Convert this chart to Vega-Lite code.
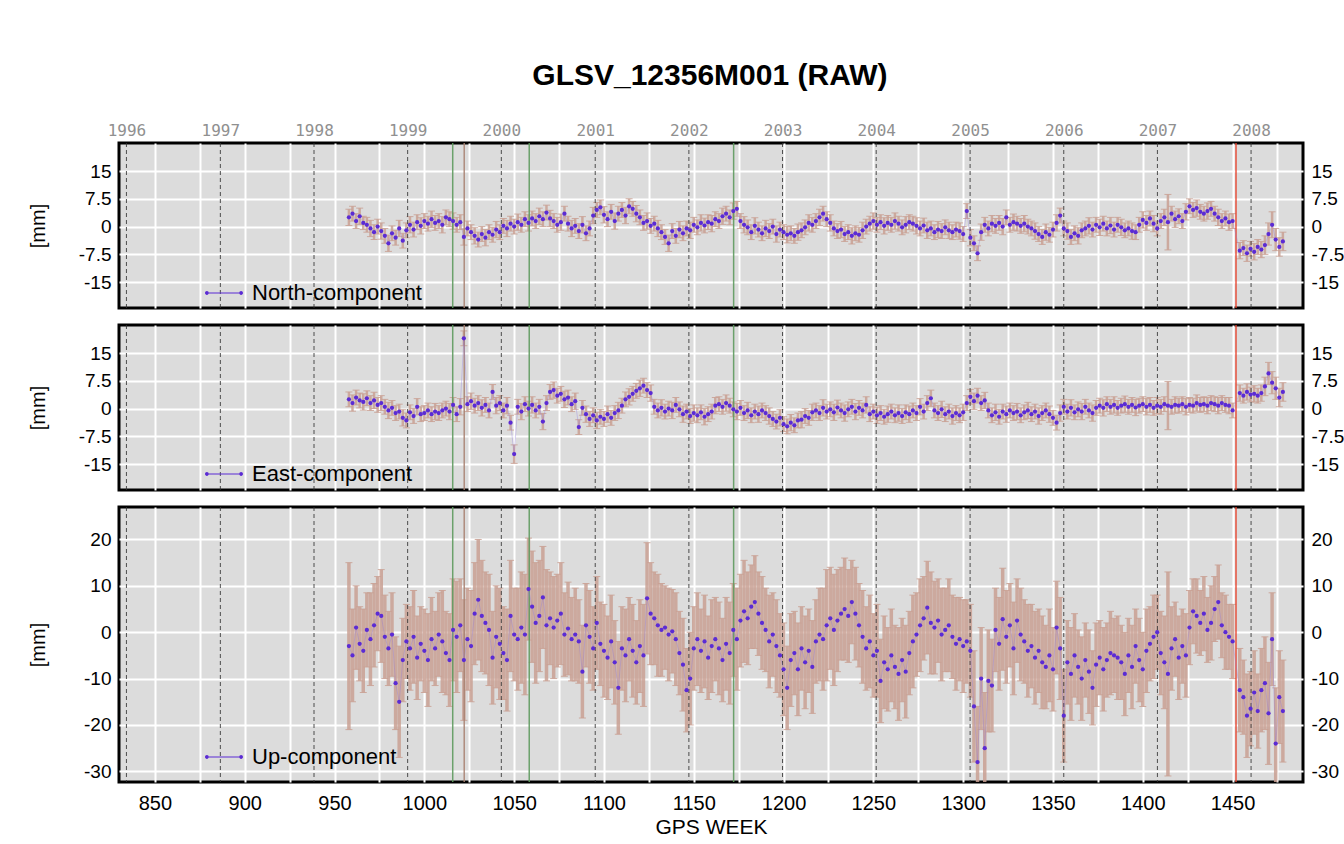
{
"$schema": "https://vega.github.io/schema/vega-lite/v6.json",
"background": "#ffffff",
"padding": {"left": 26, "top": 60, "right": 0, "bottom": 0},
"title": {"text": "GLSV_12356M001 (RAW)", "fontSize": 30, "fontWeight": "bold", "font": "Liberation Sans", "anchor": "middle", "offset": 30, "dx": 24, "color": "#000000"},
"config": {
 "font": "Liberation Sans",
 "view": {"fill": "#dcdcdc", "stroke": "#000000", "strokeWidth": 3},
 "axis": {"labelFont": "Liberation Sans", "titleFont": "Liberation Sans", "labelColor": "#000000", "titleColor": "#000000", "ticks": false, "domain": false, "gridColor": "#ffffff", "gridWidth": 2, "gridOpacity": 1, "labelFlush": false, "labelOverlap": false, "titleFontWeight": "normal"}
},
"datasets": {
 "years": [{"w":834.14,"yr":1996},{"w":886.43,"yr":1997},{"w":938.57,"yr":1998},{"w":990.71,"yr":1999},{"w":1042.86,"yr":2000},{"w":1095.14,"yr":2001},{"w":1147.29,"yr":2002},{"w":1199.43,"yr":2003},{"w":1251.57,"yr":2004},{"w":1303.86,"yr":2005},{"w":1356.0,"yr":2006},{"w":1408.14,"yr":2007},{"w":1460.29,"yr":2008}],
 "events": [{"w":1015.8,"kind":"green"},{"w":1022.2,"kind":"brown"},{"w":1058.4,"kind":"green"},{"w":1172.2,"kind":"green"},{"w":1451.9,"kind":"red"}],
 "gps": [
{"w":958,"n":2.5,"e":2.5,"u":-3,"sn":2.2,"se":2,"su":18},
{"w":960,"n":3.5,"e":1.5,"u":-5,"sn":2,"se":2.2,"su":10},
{"w":962,"n":1.5,"e":3.0,"u":1.0,"sn":2,"se":2,"su":9},
{"w":964,"n":2.8,"e":2.2,"u":-2.5,"sn":2.2,"se":2,"su":8},
{"w":966,"n":1.0,"e":1.8,"u":-4.0,"sn":1.8,"se":2.2,"su":9},
{"w":968,"n":0.5,"e":2.8,"u":0.5,"sn":2,"se":2,"su":8},
{"w":970,"n":-0.5,"e":1.5,"u":-1.5,"sn":2.2,"se":2,"su":10},
{"w":972,"n":-1.5,"e":2.2,"u":1.5,"sn":2,"se":2.2,"su":9},
{"w":974,"n":0.0,"e":1.0,"u":4.0,"sn":2,"se":2,"su":8},
{"w":976,"n":-1.2,"e":1.5,"u":3.5,"sn":2.2,"se":2,"su":10},
{"w":978,"n":-2.5,"e":0.5,"u":-1.0,"sn":2,"se":2,"su":9},
{"w":980,"n":-4.5,"e":-0.5,"u":-3.5,"sn":2.2,"se":2.2,"su":8},
{"w":982,"n":-1.8,"e":0.2,"u":-0.5,"sn":2,"se":2,"su":9},
{"w":984,"n":-3.0,"e":-1.2,"u":-11.0,"sn":2,"se":2,"su":10},
{"w":986,"n":-0.5,"e":-0.8,"u":-15.0,"sn":2.2,"se":2,"su":12},
{"w":988,"n":-3.8,"e":-2.5,"u":-6.0,"sn":2,"se":2.2,"su":9},
{"w":990,"n":-1.0,"e":-3.2,"u":-2.0,"sn":2,"se":2,"su":8},
{"w":992,"n":0.5,"e":-1.0,"u":-3.5,"sn":2.2,"se":2,"su":9},
{"w":994,"n":-0.8,"e":-2.0,"u":-1.0,"sn":2,"se":2,"su":10},
{"w":996,"n":1.2,"e":0.5,"u":-5.5,"sn":2,"se":2.2,"su":9},
{"w":998,"n":0.2,"e":-1.5,"u":-2.5,"sn":2.2,"se":2,"su":8},
{"w":1000,"n":1.5,"e":-1.2,"u":-4.0,"sn":2,"se":2,"su":9},
{"w":1002,"n":0.8,"e":-0.5,"u":-6.0,"sn":2,"se":2,"su":10},
{"w":1004,"n":2.0,"e":-1.5,"u":-1.5,"sn":2.2,"se":2,"su":9},
{"w":1006,"n":1.0,"e":-0.8,"u":-3.5,"sn":2,"se":2.2,"su":8},
{"w":1008,"n":1.5,"e":-1.2,"u":-0.5,"sn":2,"se":2,"su":9},
{"w":1010,"n":0.5,"e":-0.5,"u":-2.0,"sn":2.2,"se":2,"su":11},
{"w":1012,"n":2.5,"e":0.0,"u":-4.5,"sn":2,"se":2,"su":9},
{"w":1014,"n":2.0,"e":-0.8,"u":-6.0,"sn":2,"se":2.2,"su":10},
{"w":1016,"n":1.5,"e":1.0,"u":0.5,"sn":2.2,"se":2,"su":11},
{"w":1018,"n":0.5,"e":-1.5,"u":-1.0,"sn":2,"se":2,"su":12},
{"w":1020,"n":1.2,"e":0.5,"u":1.5,"sn":2,"se":2.2,"su":10},
{"w":1022,"n":-2.8,"e":19.0,"u":-6.0,"sn":2.2,"se":2,"su":13},
{"w":1024,"n":-0.5,"e":1.2,"u":-1.5,"sn":2,"se":2,"su":11},
{"w":1026,"n":-1.5,"e":2.0,"u":-3.0,"sn":2,"se":2.2,"su":12},
{"w":1028,"n":-2.5,"e":0.8,"u":4.0,"sn":2.2,"se":2,"su":11},
{"w":1030,"n":-3.5,"e":1.5,"u":7.0,"sn":2,"se":2,"su":13},
{"w":1032,"n":-2.0,"e":0.2,"u":3.5,"sn":2,"se":2.2,"su":12},
{"w":1034,"n":-3.0,"e":1.0,"u":2.0,"sn":2.2,"se":2,"su":11},
{"w":1036,"n":-1.5,"e":-0.5,"u":0.5,"sn":2,"se":2,"su":12},
{"w":1038,"n":-2.2,"e":4.5,"u":-5.5,"sn":2,"se":2,"su":10},
{"w":1040,"n":-0.8,"e":0.8,"u":-1.0,"sn":2.2,"se":2.2,"su":11},
{"w":1042,"n":-1.5,"e":1.5,"u":-2.5,"sn":2,"se":2,"su":12},
{"w":1044,"n":0.2,"e":-0.5,"u":-4.5,"sn":2,"se":2,"su":10},
{"w":1046,"n":-0.5,"e":0.8,"u":-6.0,"sn":2.2,"se":2.2,"su":11},
{"w":1048,"n":0.8,"e":-3.8,"u":3.5,"sn":2,"se":2,"su":12},
{"w":1050,"n":0.0,"e":-12.3,"u":-0.5,"sn":2,"se":2.5,"su":10},
{"w":1052,"n":1.2,"e":0.5,"u":-1.5,"sn":2.2,"se":2,"su":11},
{"w":1054,"n":0.5,"e":-0.8,"u":1.0,"sn":2,"se":2.2,"su":12},
{"w":1056,"n":2.0,"e":1.2,"u":-0.5,"sn":2,"se":2,"su":13},
{"w":1058,"n":1.0,"e":0.0,"u":9.3,"sn":2.2,"se":2,"su":11},
{"w":1060,"n":2.2,"e":1.0,"u":5.5,"sn":2,"se":2.2,"su":12},
{"w":1062,"n":1.5,"e":-0.5,"u":2.0,"sn":2,"se":2,"su":13},
{"w":1064,"n":2.8,"e":0.5,"u":3.5,"sn":2.2,"se":2,"su":12},
{"w":1066,"n":2.0,"e":-3.5,"u":7.5,"sn":2,"se":2.2,"su":11},
{"w":1068,"n":3.8,"e":1.5,"u":1.5,"sn":2,"se":2,"su":12},
{"w":1070,"n":2.2,"e":4.5,"u":3.0,"sn":2.2,"se":2,"su":10},
{"w":1072,"n":1.5,"e":5.0,"u":1.0,"sn":2,"se":2.2,"su":11},
{"w":1074,"n":0.5,"e":3.5,"u":2.5,"sn":2,"se":2,"su":10},
{"w":1076,"n":1.2,"e":4.0,"u":4.0,"sn":2.2,"se":2,"su":11},
{"w":1078,"n":3.5,"e":2.5,"u":-0.5,"sn":2,"se":2.2,"su":9},
{"w":1080,"n":0.8,"e":3.0,"u":0.8,"sn":2,"se":2,"su":10},
{"w":1082,"n":-0.5,"e":1.2,"u":-1.5,"sn":2.2,"se":2,"su":9},
{"w":1084,"n":0.2,"e":2.0,"u":-0.5,"sn":2,"se":2.2,"su":10},
{"w":1086,"n":-1.2,"e":-5.0,"u":-2.0,"sn":2,"se":2,"su":9},
{"w":1088,"n":0.5,"e":0.2,"u":-8.5,"sn":2.2,"se":2,"su":10},
{"w":1090,"n":-1.8,"e":-1.5,"u":1.5,"sn":2,"se":2.2,"su":9},
{"w":1092,"n":-0.5,"e":-2.8,"u":-1.0,"sn":2,"se":2,"su":10},
{"w":1094,"n":3.0,"e":-1.8,"u":-3.5,"sn":2.2,"se":2,"su":9},
{"w":1096,"n":4.5,"e":-3.2,"u":2.0,"sn":2,"se":2.2,"su":10},
{"w":1098,"n":5.2,"e":-2.2,"u":-2.5,"sn":2,"se":2,"su":9},
{"w":1100,"n":3.2,"e":-2.8,"u":-4.0,"sn":2.2,"se":2,"su":10},
{"w":1102,"n":2.0,"e":-1.5,"u":-5.5,"sn":2,"se":2.2,"su":9},
{"w":1104,"n":4.0,"e":-2.5,"u":-2.0,"sn":2,"se":2,"su":10},
{"w":1106,"n":1.5,"e":-1.2,"u":-6.5,"sn":2.2,"se":2,"su":9},
{"w":1108,"n":3.5,"e":-0.5,"u":-12.0,"sn":2,"se":2.2,"su":10},
{"w":1110,"n":4.5,"e":0.8,"u":-3.5,"sn":2,"se":2,"su":9},
{"w":1112,"n":3.0,"e":2.5,"u":-5.0,"sn":2.2,"se":2,"su":10},
{"w":1114,"n":5.5,"e":3.2,"u":-1.5,"sn":2,"se":2.2,"su":9},
{"w":1116,"n":4.8,"e":4.0,"u":-4.0,"sn":2,"se":2,"su":10},
{"w":1118,"n":3.5,"e":4.8,"u":-6.5,"sn":2.2,"se":2,"su":9},
{"w":1120,"n":2.5,"e":5.5,"u":-3.0,"sn":2,"se":2.2,"su":10},
{"w":1122,"n":1.0,"e":6.2,"u":-5.0,"sn":2,"se":2,"su":11},
{"w":1124,"n":1.5,"e":5.0,"u":7.3,"sn":2.2,"se":2,"su":12},
{"w":1126,"n":0.2,"e":4.2,"u":4.0,"sn":2,"se":2.2,"su":11},
{"w":1128,"n":0.8,"e":0.5,"u":3.0,"sn":2,"se":2,"su":10},
{"w":1130,"n":-0.5,"e":-0.5,"u":1.5,"sn":2.2,"se":2,"su":11},
{"w":1132,"n":-1.5,"e":0.2,"u":0.5,"sn":2,"se":2.2,"su":10},
{"w":1134,"n":-2.8,"e":-0.8,"u":1.0,"sn":2,"se":2,"su":9},
{"w":1136,"n":-4.5,"e":0.0,"u":-0.5,"sn":2.2,"se":2,"su":10},
{"w":1138,"n":-1.2,"e":-0.5,"u":0.2,"sn":2,"se":2.2,"su":9},
{"w":1140,"n":-2.5,"e":1.0,"u":-1.5,"sn":2,"se":2,"su":10},
{"w":1142,"n":-0.8,"e":-0.2,"u":-4.5,"sn":2.2,"se":2,"su":9},
{"w":1144,"n":-1.8,"e":-1.5,"u":-7.0,"sn":2,"se":2.2,"su":10},
{"w":1146,"n":-0.5,"e":-0.8,"u":-12.5,"sn":2,"se":2,"su":9},
{"w":1148,"n":-1.0,"e":-2.0,"u":-10.0,"sn":2.2,"se":2,"su":10},
{"w":1150,"n":0.5,"e":-1.2,"u":-3.5,"sn":2,"se":2.2,"su":9},
{"w":1152,"n":-0.2,"e":-1.8,"u":-1.5,"sn":2,"se":2,"su":10},
{"w":1154,"n":1.0,"e":-1.0,"u":-4.0,"sn":2.2,"se":2,"su":9},
{"w":1156,"n":0.3,"e":-2.2,"u":-2.0,"sn":2,"se":2.2,"su":10},
{"w":1158,"n":1.2,"e":-1.5,"u":-5.5,"sn":2,"se":2,"su":9},
{"w":1160,"n":0.8,"e":-0.8,"u":-3.0,"sn":2.2,"se":2,"su":10},
{"w":1162,"n":2.0,"e":0.8,"u":-1.5,"sn":2,"se":2.2,"su":9},
{"w":1164,"n":1.5,"e":1.2,"u":-3.5,"sn":2,"se":2,"su":10},
{"w":1166,"n":2.8,"e":0.5,"u":-6.0,"sn":2.2,"se":2,"su":9},
{"w":1168,"n":3.5,"e":1.5,"u":-2.5,"sn":2,"se":2.2,"su":10},
{"w":1170,"n":2.5,"e":0.8,"u":-4.5,"sn":2,"se":2,"su":11},
{"w":1172,"n":4.2,"e":-0.2,"u":0.5,"sn":2.2,"se":2,"su":10},
{"w":1174,"n":4.8,"e":-0.8,"u":-1.5,"sn":2,"se":2.2,"su":11},
{"w":1176,"n":1.5,"e":0.2,"u":2.5,"sn":2,"se":2,"su":10},
{"w":1178,"n":0.5,"e":-1.2,"u":4.5,"sn":2.2,"se":2,"su":11},
{"w":1180,"n":-0.2,"e":-0.5,"u":3.0,"sn":2,"se":2.2,"su":10},
{"w":1182,"n":-1.5,"e":-1.8,"u":5.5,"sn":2,"se":2,"su":9},
{"w":1184,"n":0.2,"e":-0.8,"u":6.5,"sn":2.2,"se":2,"su":10},
{"w":1186,"n":-0.8,"e":-1.5,"u":4.0,"sn":2,"se":2.2,"su":9},
{"w":1188,"n":-1.8,"e":-0.5,"u":2.0,"sn":2,"se":2,"su":10},
{"w":1190,"n":-0.5,"e":-1.2,"u":0.5,"sn":2.2,"se":2,"su":9},
{"w":1192,"n":-1.2,"e":-2.0,"u":-2.0,"sn":2,"se":2.2,"su":10},
{"w":1194,"n":0.0,"e":-2.8,"u":-0.5,"sn":2,"se":2,"su":9},
{"w":1196,"n":-2.0,"e":-3.5,"u":-3.0,"sn":2.2,"se":2,"su":10},
{"w":1198,"n":-0.8,"e":-2.5,"u":-5.0,"sn":2,"se":2.2,"su":9},
{"w":1200,"n":-1.5,"e":-4.2,"u":-8.0,"sn":2,"se":2,"su":10},
{"w":1202,"n":-2.2,"e":-4.8,"u":-12.0,"sn":2.2,"se":2,"su":9},
{"w":1204,"n":-1.8,"e":-3.8,"u":-6.0,"sn":2,"se":2.2,"su":10},
{"w":1206,"n":-2.5,"e":-4.5,"u":-4.5,"sn":2,"se":2,"su":9},
{"w":1208,"n":-1.5,"e":-3.2,"u":-8.0,"sn":2.2,"se":2,"su":10},
{"w":1210,"n":-1.0,"e":-3.0,"u":-3.5,"sn":2,"se":2.2,"su":9},
{"w":1212,"n":-0.2,"e":-2.0,"u":-6.5,"sn":2,"se":2,"su":10},
{"w":1214,"n":1.0,"e":-2.5,"u":-4.0,"sn":2.2,"se":2,"su":9},
{"w":1216,"n":0.5,"e":-1.0,"u":-7.5,"sn":2,"se":2.2,"su":10},
{"w":1218,"n":1.5,"e":-0.5,"u":-2.0,"sn":2,"se":2,"su":9},
{"w":1220,"n":2.5,"e":-1.2,"u":-0.5,"sn":2.2,"se":2,"su":10},
{"w":1222,"n":3.5,"e":0.2,"u":-1.5,"sn":2,"se":2.2,"su":11},
{"w":1224,"n":2.0,"e":-0.8,"u":1.5,"sn":2,"se":2,"su":12},
{"w":1226,"n":1.0,"e":-0.2,"u":3.0,"sn":2.2,"se":2,"su":11},
{"w":1228,"n":-0.5,"e":-1.0,"u":0.5,"sn":2,"se":2.2,"su":12},
{"w":1230,"n":-1.2,"e":0.3,"u":2.5,"sn":2,"se":2,"su":11},
{"w":1232,"n":-0.8,"e":-0.5,"u":4.0,"sn":2.2,"se":2,"su":10},
{"w":1234,"n":-2.0,"e":-1.2,"u":5.0,"sn":2,"se":2.2,"su":11},
{"w":1236,"n":-1.5,"e":-0.2,"u":3.5,"sn":2,"se":2,"su":10},
{"w":1238,"n":-2.5,"e":0.5,"u":6.5,"sn":2.2,"se":2,"su":9},
{"w":1240,"n":-1.8,"e":-0.8,"u":4.0,"sn":2,"se":2.2,"su":10},
{"w":1242,"n":-2.2,"e":0.2,"u":1.5,"sn":2,"se":2,"su":9},
{"w":1244,"n":-1.0,"e":-0.5,"u":-1.0,"sn":2.2,"se":2,"su":10},
{"w":1246,"n":0.0,"e":1.0,"u":-3.5,"sn":2,"se":2.2,"su":9},
{"w":1248,"n":0.8,"e":-1.5,"u":-2.0,"sn":2,"se":2,"su":10},
{"w":1250,"n":1.5,"e":-0.8,"u":-5.0,"sn":2.2,"se":2,"su":9},
{"w":1252,"n":0.5,"e":-1.8,"u":-4.0,"sn":2,"se":2.2,"su":10},
{"w":1254,"n":1.2,"e":-1.2,"u":-10.5,"sn":2,"se":2,"su":9},
{"w":1256,"n":0.2,"e":-2.2,"u":-6.5,"sn":2.2,"se":2,"su":10},
{"w":1258,"n":1.0,"e":-1.5,"u":-8.0,"sn":2,"se":2.2,"su":9},
{"w":1260,"n":0.5,"e":-0.8,"u":-5.0,"sn":2,"se":2,"su":10},
{"w":1262,"n":1.5,"e":-1.8,"u":-7.5,"sn":2.2,"se":2,"su":9},
{"w":1264,"n":0.8,"e":-1.2,"u":-9.0,"sn":2,"se":2.2,"su":10},
{"w":1266,"n":-0.2,"e":-2.0,"u":-6.0,"sn":2,"se":2,"su":9},
{"w":1268,"n":0.5,"e":-1.0,"u":-8.5,"sn":2.2,"se":2,"su":10},
{"w":1270,"n":1.2,"e":-1.5,"u":-4.5,"sn":2,"se":2.2,"su":9},
{"w":1272,"n":0.8,"e":-0.5,"u":-2.0,"sn":2,"se":2,"su":10},
{"w":1274,"n":0.2,"e":-1.2,"u":-0.5,"sn":2.2,"se":2,"su":9},
{"w":1276,"n":-0.5,"e":0.5,"u":1.5,"sn":2,"se":2.2,"su":10},
{"w":1278,"n":0.3,"e":-0.8,"u":3.0,"sn":2,"se":2,"su":9},
{"w":1280,"n":-1.0,"e":1.5,"u":5.3,"sn":2.2,"se":2,"su":10},
{"w":1282,"n":-0.5,"e":2.8,"u":2.0,"sn":2,"se":2.2,"su":11},
{"w":1284,"n":-1.5,"e":-0.5,"u":1.0,"sn":2,"se":2,"su":10},
{"w":1286,"n":-0.8,"e":-1.2,"u":2.5,"sn":2.2,"se":2,"su":9},
{"w":1288,"n":-1.2,"e":-0.2,"u":-0.5,"sn":2,"se":2.2,"su":10},
{"w":1290,"n":-0.2,"e":-1.5,"u":0.5,"sn":2,"se":2,"su":9},
{"w":1292,"n":-1.0,"e":-0.8,"u":1.5,"sn":2.2,"se":2,"su":10},
{"w":1294,"n":-1.5,"e":-2.0,"u":-1.0,"sn":2,"se":2.2,"su":9},
{"w":1296,"n":-0.8,"e":-1.2,"u":-2.5,"sn":2,"se":2,"su":10},
{"w":1298,"n":-1.2,"e":-1.8,"u":-1.5,"sn":2.2,"se":2,"su":9},
{"w":1300,"n":-2.0,"e":-1.0,"u":-3.0,"sn":2,"se":2.2,"su":10},
{"w":1302,"n":4.2,"e":1.5,"u":-2.0,"sn":2,"se":2,"su":9},
{"w":1304,"n":-3.0,"e":3.2,"u":-4.0,"sn":2.2,"se":2,"su":10},
{"w":1306,"n":-4.5,"e":2.0,"u":-16.0,"sn":2,"se":2.2,"su":12},
{"w":1308,"n":-7.2,"e":3.5,"u":-28.0,"sn":2,"se":2,"su":12},
{"w":1310,"n":-1.5,"e":1.5,"u":-10.0,"sn":2.2,"se":2,"su":11},
{"w":1312,"n":0.5,"e":2.2,"u":-25.0,"sn":2,"se":2.2,"su":12},
{"w":1314,"n":-0.5,"e":-0.5,"u":-10.5,"sn":2,"se":2,"su":11},
{"w":1316,"n":0.8,"e":-1.8,"u":-11.5,"sn":2.2,"se":2,"su":10},
{"w":1318,"n":0.2,"e":-1.0,"u":0.5,"sn":2,"se":2.2,"su":9},
{"w":1320,"n":1.0,"e":-2.2,"u":-2.5,"sn":2,"se":2,"su":10},
{"w":1322,"n":0.0,"e":-0.8,"u":2.8,"sn":2.2,"se":2,"su":11},
{"w":1324,"n":2.5,"e":-1.5,"u":-1.0,"sn":2,"se":2.2,"su":10},
{"w":1326,"n":0.5,"e":-0.5,"u":1.5,"sn":2,"se":2,"su":9},
{"w":1328,"n":1.2,"e":-1.2,"u":-3.5,"sn":2.2,"se":2,"su":10},
{"w":1330,"n":0.8,"e":-0.8,"u":2.5,"sn":2,"se":2.2,"su":9},
{"w":1332,"n":0.2,"e":-1.8,"u":-0.5,"sn":2,"se":2,"su":10},
{"w":1334,"n":0.8,"e":-1.0,"u":-2.0,"sn":2.2,"se":2,"su":9},
{"w":1336,"n":0.0,"e":-0.5,"u":-4.0,"sn":2,"se":2.2,"su":10},
{"w":1338,"n":-0.5,"e":-1.5,"u":-3.0,"sn":2,"se":2,"su":9},
{"w":1340,"n":-1.2,"e":-0.8,"u":-5.5,"sn":2.2,"se":2,"su":10},
{"w":1342,"n":-2.0,"e":-2.0,"u":-4.0,"sn":2,"se":2.2,"su":9},
{"w":1344,"n":-2.8,"e":-1.2,"u":-6.5,"sn":2,"se":2,"su":10},
{"w":1346,"n":-1.5,"e":-0.5,"u":-7.5,"sn":2.2,"se":2,"su":9},
{"w":1348,"n":-2.2,"e":-1.5,"u":-5.0,"sn":2,"se":2.2,"su":10},
{"w":1350,"n":-0.8,"e":-2.5,"u":-8.0,"sn":2,"se":2,"su":9},
{"w":1352,"n":1.0,"e":-3.8,"u":1.0,"sn":2.2,"se":2,"su":10},
{"w":1354,"n":3.0,"e":-1.2,"u":-3.5,"sn":2,"se":2.2,"su":11},
{"w":1356,"n":-0.5,"e":0.5,"u":-18.0,"sn":2,"se":2,"su":10},
{"w":1358,"n":-1.2,"e":-0.8,"u":-6.5,"sn":2.2,"se":2,"su":9},
{"w":1360,"n":-2.8,"e":0.2,"u":-9.0,"sn":2,"se":2.2,"su":10},
{"w":1362,"n":-1.8,"e":-1.0,"u":-5.0,"sn":2,"se":2,"su":9},
{"w":1364,"n":-2.5,"e":-0.2,"u":-7.5,"sn":2.2,"se":2,"su":8},
{"w":1366,"n":-1.0,"e":-0.8,"u":-10.0,"sn":2,"se":2.2,"su":9},
{"w":1368,"n":-0.5,"e":0.5,"u":-6.0,"sn":2,"se":2,"su":8},
{"w":1370,"n":0.2,"e":-0.5,"u":-8.5,"sn":2.2,"se":2,"su":9},
{"w":1372,"n":-0.8,"e":-1.2,"u":-12.0,"sn":2,"se":2.2,"su":8},
{"w":1374,"n":0.5,"e":0.2,"u":-7.0,"sn":2,"se":2,"su":9},
{"w":1376,"n":-0.2,"e":0.8,"u":-5.5,"sn":2.2,"se":2,"su":8},
{"w":1378,"n":0.8,"e":0.2,"u":-8.0,"sn":2,"se":2.2,"su":9},
{"w":1380,"n":-0.5,"e":1.2,"u":-6.0,"sn":2,"se":2,"su":8},
{"w":1382,"n":0.3,"e":0.5,"u":-4.5,"sn":2.2,"se":2,"su":9},
{"w":1384,"n":-0.8,"e":1.0,"u":-5.0,"sn":2,"se":2.2,"su":8},
{"w":1386,"n":0.5,"e":0.2,"u":-5.5,"sn":2,"se":2,"su":9},
{"w":1388,"n":-0.2,"e":0.8,"u":-6.5,"sn":2.2,"se":2,"su":8},
{"w":1390,"n":-1.0,"e":1.2,"u":-9.0,"sn":2,"se":2.2,"su":9},
{"w":1392,"n":-0.5,"e":0.5,"u":-5.0,"sn":2,"se":2,"su":8},
{"w":1394,"n":-1.2,"e":1.0,"u":-7.5,"sn":2.2,"se":2,"su":9},
{"w":1396,"n":-1.5,"e":0.3,"u":-3.0,"sn":2,"se":2.2,"su":8},
{"w":1398,"n":0.5,"e":0.8,"u":-6.0,"sn":2,"se":2,"su":9},
{"w":1400,"n":1.8,"e":1.2,"u":-8.0,"sn":2.2,"se":2,"su":8},
{"w":1402,"n":1.0,"e":0.5,"u":-4.0,"sn":2,"se":2.2,"su":9},
{"w":1404,"n":2.2,"e":1.0,"u":-2.5,"sn":2,"se":2,"su":8},
{"w":1406,"n":0.8,"e":0.2,"u":-1.0,"sn":2.2,"se":2,"su":9},
{"w":1408,"n":-0.5,"e":0.8,"u":0.0,"sn":2,"se":2.2,"su":8},
{"w":1410,"n":1.5,"e":0.5,"u":-4.5,"sn":2,"se":2,"su":9},
{"w":1412,"n":2.5,"e":1.2,"u":-6.5,"sn":2.2,"se":2,"su":10},
{"w":1414,"n":1.2,"e":0.8,"u":-9.0,"sn":7.5,"se":6.5,"su":22},
{"w":1416,"n":3.5,"e":0.5,"u":-3.5,"sn":2,"se":2,"su":9},
{"w":1418,"n":2.0,"e":1.0,"u":-1.5,"sn":2.2,"se":2.2,"su":8},
{"w":1420,"n":2.8,"e":0.8,"u":-5.5,"sn":2,"se":2,"su":9},
{"w":1422,"n":1.5,"e":1.2,"u":-3.0,"sn":2,"se":2,"su":8},
{"w":1424,"n":4.0,"e":0.5,"u":-5.0,"sn":2.2,"se":2.2,"su":9},
{"w":1426,"n":5.5,"e":1.0,"u":1.0,"sn":2,"se":2,"su":8},
{"w":1428,"n":4.5,"e":0.8,"u":4.5,"sn":2,"se":2,"su":7},
{"w":1430,"n":5.0,"e":1.5,"u":3.5,"sn":2.2,"se":2.2,"su":8},
{"w":1432,"n":4.0,"e":1.0,"u":2.0,"sn":2,"se":2,"su":7},
{"w":1434,"n":3.5,"e":1.2,"u":4.0,"sn":2,"se":2,"su":8},
{"w":1436,"n":4.2,"e":0.8,"u":0.5,"sn":2.2,"se":2.2,"su":7},
{"w":1438,"n":4.8,"e":1.5,"u":2.0,"sn":2,"se":2,"su":8},
{"w":1440,"n":3.5,"e":1.2,"u":5.0,"sn":2,"se":2,"su":7},
{"w":1442,"n":2.5,"e":0.8,"u":6.5,"sn":2.2,"se":2.2,"su":8},
{"w":1444,"n":1.5,"e":1.5,"u":1.5,"sn":2,"se":2,"su":7},
{"w":1446,"n":2.2,"e":1.0,"u":0.0,"sn":2,"se":2,"su":8},
{"w":1448,"n":1.2,"e":0.8,"u":-1.0,"sn":2.2,"se":2.2,"su":7},
{"w":1450,"n":1.5,"e":-0.5,"u":-2.0,"sn":2,"se":2,"su":8},
{"w":1454,"n":-6.5,"e":4.2,"u":-12.5,"sn":2.2,"se":2.2,"su":9},
{"w":1456,"n":-5.8,"e":3.5,"u":-14.0,"sn":2,"se":2,"su":8},
{"w":1458,"n":-7.2,"e":4.5,"u":-18.0,"sn":2.2,"se":2.2,"su":9},
{"w":1460,"n":-6.0,"e":3.8,"u":-16.5,"sn":2,"se":2,"su":8},
{"w":1462,"n":-6.8,"e":4.0,"u":-13.0,"sn":2.2,"se":2.2,"su":9},
{"w":1464,"n":-5.5,"e":3.5,"u":-17.0,"sn":2,"se":2,"su":8},
{"w":1466,"n":-6.2,"e":4.2,"u":-12.5,"sn":2.2,"se":2.2,"su":9},
{"w":1468,"n":-5.0,"e":6.0,"u":-11.0,"sn":2.5,"se":2.5,"su":10},
{"w":1470,"n":-2.0,"e":9.5,"u":-17.5,"sn":3,"se":3,"su":11},
{"w":1472,"n":0.5,"e":7.0,"u":-1.5,"sn":3.5,"se":3,"su":10},
{"w":1474,"n":-3.5,"e":5.5,"u":-24.0,"sn":3,"se":3,"su":12},
{"w":1476,"n":-5.5,"e":3.0,"u":-14.0,"sn":2.5,"se":2.5,"su":10},
{"w":1478,"n":-4.0,"e":4.5,"u":-17.0,"sn":2.5,"se":2.5,"su":11}
 ]
},
"spacing": 11,
"resolve": {"scale": {"x": "independent", "y": "independent", "color": "independent"}, "legend": {"color": "independent"}},
"vconcat": [
 {
  "width": 1184, "height": 165,
  "resolve": {"axis": {"x": "independent", "y": "independent"}},
  "layer": [
   {"data": {"name": "gps"}, "mark": {"type": "errorbar", "color": "#c9a093", "opacity": 0.85, "thickness": 2.5, "ticks": {"size": 7, "thickness": 1}, "clip": true},
    "encoding": {"x": {"field": "w", "type": "quantitative", "scale": {"domain": [830, 1489.2], "nice": false, "zero": false}, "axis": null},
     "y": {"field": "n", "type": "quantitative", "scale": {"domain": [-22, 22.6], "nice": false, "zero": false}, "axis": null},
     "yError": {"field": "sn"}}},
   {"data": {"name": "years"}, "mark": {"type": "rule", "color": "#333333", "strokeDash": [4, 3], "strokeWidth": 1, "opacity": 0.85},
    "encoding": {"x": {"field": "w", "type": "quantitative", "axis": {"orient": "top", "values": [834.14, 886.43, 938.57, 990.71, 1042.86, 1095.14, 1147.29, 1199.43, 1251.57, 1303.86, 1356.0, 1408.14, 1460.29], "labelExpr": "'' + round(1996 + (datum.value - 834.14) / 52.18)", "labelFont": "DejaVu Sans Mono", "labelFontSize": 16, "labelColor": "#909090", "labelPadding": 5, "grid": false, "title": null}}}},
   {"data": {"name": "events"}, "mark": {"type": "rule", "opacity": 0.9},
    "encoding": {"x": {"field": "w", "type": "quantitative", "axis": null},
     "stroke": {"field": "kind", "type": "nominal", "scale": {"domain": ["green", "brown", "red"], "range": ["#5e9a5e", "#a88272", "#e8432c"]}, "legend": null},
     "strokeWidth": {"field": "kind", "type": "nominal", "scale": {"domain": ["green", "brown", "red"], "range": [1.5, 1.5, 2.2]}, "legend": null}}},
   {"data": {"name": "gps"}, "mark": {"type": "line", "color": "#8c70e0", "strokeWidth": 0.8, "opacity": 0.4, "clip": true},
    "encoding": {"x": {"field": "w", "type": "quantitative", "axis": null},
     "y": {"field": "n", "type": "quantitative", "axis": {"orient": "right", "values": [-15, -7.5, 0, 7.5, 15], "labelExpr": "'' + datum.value", "labelFontSize": 19, "labelPadding": 8, "grid": false, "title": null}}}},
   {"data": {"name": "gps"}, "mark": {"type": "circle", "size": 18, "opacity": 1, "clip": true},
    "encoding": {"x": {"field": "w", "type": "quantitative", "axis": {"orient": "bottom", "values": [850, 875, 900, 925, 950, 975, 1000, 1025, 1050, 1075, 1100, 1125, 1150, 1175, 1200, 1225, 1250, 1275, 1300, 1325, 1350, 1375, 1400, 1425, 1450, 1475], "labels": false, "grid": true, "title": null}},
     "y": {"field": "n", "type": "quantitative", "axis": {"orient": "left", "values": [-15, -7.5, 0, 7.5, 15], "labelExpr": "'' + datum.value", "labelFontSize": 19, "labelPadding": 8, "grid": true, "title": "[mm]", "titleFontSize": 20, "titleX": -71}},
     "color": {"datum": "North-component", "type": "nominal", "scale": {"range": ["#5b2bd4"]},
      "legend": {"orient": "none", "legendX": 85, "legendY": 130, "title": null, "padding": 0, "labelFontSize": 22, "labelColor": "#000000", "labelOffset": 8, "labelLimit": 400, "symbolSize": 1444, "symbolType": "M-0.8,-0.025H0.8V0.025H-0.8ZM-1,0a0.1,0.1 0 1,1 0.2,0a0.1,0.1 0 1,1 -0.2,0ZM0.8,0a0.1,0.1 0 1,1 0.2,0a0.1,0.1 0 1,1 -0.2,0Z",
       "encode": {"symbols": {"update": {"fill": {"value": "#5b2bd4"}, "opacity": {"value": 1}}}}}}}}
  ]
 },
 {
  "width": 1184, "height": 165,
  "resolve": {"axis": {"x": "independent", "y": "independent"}},
  "layer": [
   {"data": {"name": "gps"}, "mark": {"type": "errorbar", "color": "#c9a093", "opacity": 0.85, "thickness": 2.5, "ticks": {"size": 7, "thickness": 1}, "clip": true},
    "encoding": {"x": {"field": "w", "type": "quantitative", "scale": {"domain": [830, 1489.2], "nice": false, "zero": false}, "axis": null},
     "y": {"field": "e", "type": "quantitative", "scale": {"domain": [-22, 22.6], "nice": false, "zero": false}, "axis": null},
     "yError": {"field": "se"}}},
   {"data": {"name": "years"}, "mark": {"type": "rule", "color": "#333333", "strokeDash": [4, 3], "strokeWidth": 1, "opacity": 0.85},
    "encoding": {"x": {"field": "w", "type": "quantitative", "axis": null}}},
   {"data": {"name": "events"}, "mark": {"type": "rule", "opacity": 0.9},
    "encoding": {"x": {"field": "w", "type": "quantitative", "axis": null},
     "stroke": {"field": "kind", "type": "nominal", "scale": {"domain": ["green", "brown", "red"], "range": ["#5e9a5e", "#a88272", "#e8432c"]}, "legend": null},
     "strokeWidth": {"field": "kind", "type": "nominal", "scale": {"domain": ["green", "brown", "red"], "range": [1.5, 1.5, 2.2]}, "legend": null}}},
   {"data": {"name": "gps"}, "mark": {"type": "line", "color": "#8c70e0", "strokeWidth": 0.8, "opacity": 0.4, "clip": true},
    "encoding": {"x": {"field": "w", "type": "quantitative", "axis": null},
     "y": {"field": "e", "type": "quantitative", "axis": {"orient": "right", "values": [-15, -7.5, 0, 7.5, 15], "labelExpr": "'' + datum.value", "labelFontSize": 19, "labelPadding": 8, "grid": false, "title": null}}}},
   {"data": {"name": "gps"}, "mark": {"type": "circle", "size": 18, "opacity": 1, "clip": true},
    "encoding": {"x": {"field": "w", "type": "quantitative", "axis": {"orient": "bottom", "values": [850, 875, 900, 925, 950, 975, 1000, 1025, 1050, 1075, 1100, 1125, 1150, 1175, 1200, 1225, 1250, 1275, 1300, 1325, 1350, 1375, 1400, 1425, 1450, 1475], "labels": false, "grid": true, "title": null}},
     "y": {"field": "e", "type": "quantitative", "axis": {"orient": "left", "values": [-15, -7.5, 0, 7.5, 15], "labelExpr": "'' + datum.value", "labelFontSize": 19, "labelPadding": 8, "grid": true, "title": "[mm]", "titleFontSize": 20, "titleX": -71}},
     "color": {"datum": "East-component", "type": "nominal", "scale": {"range": ["#5b2bd4"]},
      "legend": {"orient": "none", "legendX": 85, "legendY": 129, "title": null, "padding": 0, "labelFontSize": 22, "labelColor": "#000000", "labelOffset": 8, "labelLimit": 400, "symbolSize": 1444, "symbolType": "M-0.8,-0.025H0.8V0.025H-0.8ZM-1,0a0.1,0.1 0 1,1 0.2,0a0.1,0.1 0 1,1 -0.2,0ZM0.8,0a0.1,0.1 0 1,1 0.2,0a0.1,0.1 0 1,1 -0.2,0Z",
       "encode": {"symbols": {"update": {"fill": {"value": "#5b2bd4"}, "opacity": {"value": 1}}}}}}}}
  ]
 },
 {
  "width": 1184, "height": 275,
  "resolve": {"axis": {"x": "independent", "y": "independent"}},
  "layer": [
   {"data": {"name": "gps"}, "mark": {"type": "errorbar", "color": "#c9a093", "opacity": 0.85, "thickness": 3.5, "ticks": {"size": 7, "thickness": 1}, "clip": true},
    "encoding": {"x": {"field": "w", "type": "quantitative", "scale": {"domain": [830, 1489.2], "nice": false, "zero": false}, "axis": null},
     "y": {"field": "u", "type": "quantitative", "scale": {"domain": [-32.3, 27], "nice": false, "zero": false}, "axis": null},
     "yError": {"field": "su"}}},
   {"data": {"name": "years"}, "mark": {"type": "rule", "color": "#333333", "strokeDash": [4, 3], "strokeWidth": 1, "opacity": 0.85},
    "encoding": {"x": {"field": "w", "type": "quantitative", "axis": null}}},
   {"data": {"name": "events"}, "mark": {"type": "rule", "opacity": 0.9},
    "encoding": {"x": {"field": "w", "type": "quantitative", "axis": null},
     "stroke": {"field": "kind", "type": "nominal", "scale": {"domain": ["green", "brown", "red"], "range": ["#5e9a5e", "#a88272", "#e8432c"]}, "legend": null},
     "strokeWidth": {"field": "kind", "type": "nominal", "scale": {"domain": ["green", "brown", "red"], "range": [1.5, 1.5, 2.2]}, "legend": null}}},
   {"data": {"name": "gps"}, "mark": {"type": "line", "color": "#8c70e0", "strokeWidth": 0.8, "opacity": 0.4, "clip": true},
    "encoding": {"x": {"field": "w", "type": "quantitative", "axis": null},
     "y": {"field": "u", "type": "quantitative", "axis": {"orient": "right", "values": [-30, -20, -10, 0, 10, 20], "labelExpr": "'' + datum.value", "labelFontSize": 19, "labelPadding": 8, "grid": false, "title": null}}}},
   {"data": {"name": "gps"}, "mark": {"type": "circle", "size": 18, "opacity": 1, "clip": true},
    "encoding": {"x": {"field": "w", "type": "quantitative", "axis": {"orient": "bottom", "values": [850, 875, 900, 925, 950, 975, 1000, 1025, 1050, 1075, 1100, 1125, 1150, 1175, 1200, 1225, 1250, 1275, 1300, 1325, 1350, 1375, 1400, 1425, 1450, 1475], "labelExpr": "datum.value % 50 == 0 ? '' + datum.value : ''", "labelFontSize": 20, "labelPadding": 11, "grid": true, "title": "GPS WEEK", "titleFontSize": 21, "titlePadding": 3}},
     "y": {"field": "u", "type": "quantitative", "axis": {"orient": "left", "values": [-30, -20, -10, 0, 10, 20], "labelExpr": "'' + datum.value", "labelFontSize": 19, "labelPadding": 8, "grid": true, "title": "[mm]", "titleFontSize": 20, "titleX": -71}},
     "color": {"datum": "Up-component", "type": "nominal", "scale": {"range": ["#5b2bd4"]},
      "legend": {"orient": "none", "legendX": 85, "legendY": 230, "title": null, "padding": 0, "labelFontSize": 22, "labelColor": "#000000", "labelOffset": 8, "labelLimit": 400, "symbolSize": 1444, "symbolType": "M-0.8,-0.025H0.8V0.025H-0.8ZM-1,0a0.1,0.1 0 1,1 0.2,0a0.1,0.1 0 1,1 -0.2,0ZM0.8,0a0.1,0.1 0 1,1 0.2,0a0.1,0.1 0 1,1 -0.2,0Z",
       "encode": {"symbols": {"update": {"fill": {"value": "#5b2bd4"}, "opacity": {"value": 1}}}}}}}}
  ]
 }
]
}
